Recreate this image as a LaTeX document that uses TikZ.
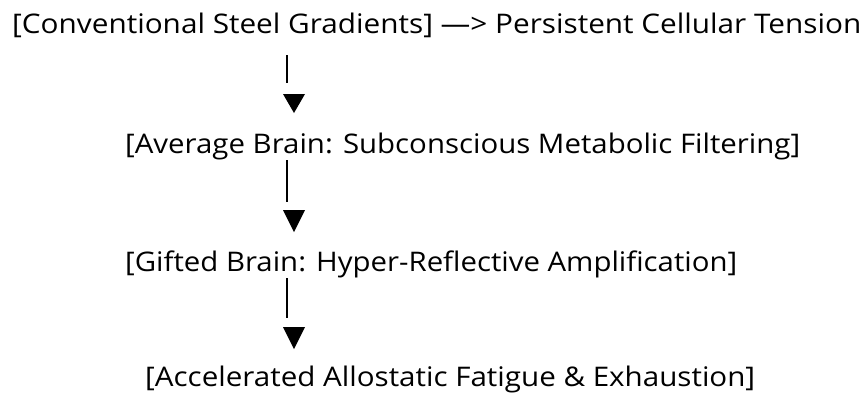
\documentclass[tikz,border=0pt]{standalone}
\usepackage{fontspec}
\usepackage{graphicx}
\setmainfont{Open Sans}
\newcommand{\rowfit}[2]{\resizebox{#1}{\height}{#2}}
\begin{document}
\begin{tikzpicture}[x=1pt,y=-1pt,
  rowtext/.style={anchor=base west,inner sep=0pt,font=\fontsize{27}{32}\selectfont},
  bar/.style={line width=1.7pt},
  tri/.style={fill=black}]
\useasboundingbox (0,0) rectangle (865,392);
\node[rowtext] (r1) at (12,33) {\rowfit{849pt}{[Conventional Steel Gradients] —> Persistent Cellular Tension}};
\node[rowtext] (r2) at (125,153) {\rowfit{675pt}{[Average Brain: Subconscious Metabolic Filtering]}};
\node[rowtext] (r3) at (125,271.5) {\rowfit{612pt}{[Gifted Brain: Hyper-Reflective Amplification]}};
\node[rowtext] (r4) at (145,386.5) {\rowfit{610pt}{[Accelerated Allostatic Fatigue \& Exhaustion]}};
\coordinate (a1) at (287,55); \coordinate (b1) at (287,83);
\coordinate (a2) at (287,160); \coordinate (b2) at (287,202);
\coordinate (a3) at (287,278); \coordinate (b3) at (287,318);
\draw[bar] (a1) -- (b1);
\draw[bar] (a2) -- (b2);
\draw[bar] (a3) -- (b3);
\fill[tri] (283,94) -- (305,94) -- (294,113) -- cycle;
\fill[tri] (283,210) -- (305,210) -- (294,232) -- cycle;
\fill[tri] (283,327) -- (305,327) -- (294,349) -- cycle;
\end{tikzpicture}
\end{document}
